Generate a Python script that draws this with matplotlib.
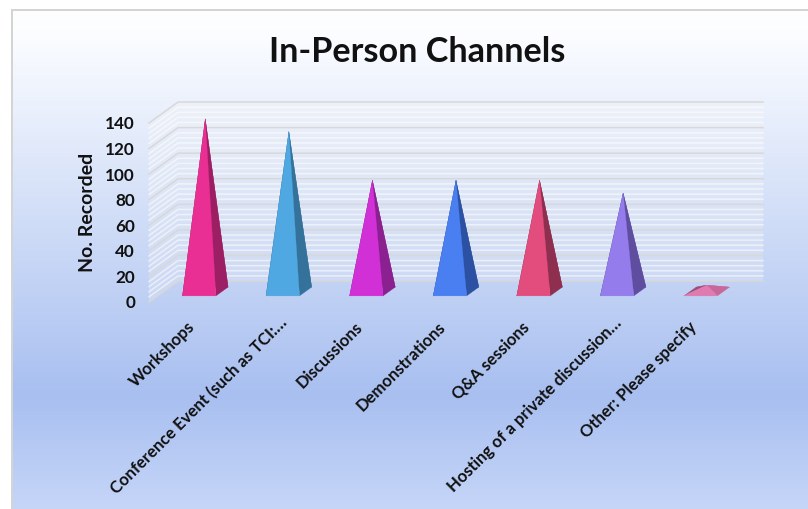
import numpy as np
import matplotlib
matplotlib.use("Agg")
import matplotlib.pyplot as plt
from matplotlib.patches import Polygon, Rectangle
from matplotlib.transforms import ScaledTranslation

categories = ["Workshops", "Conference Event (such as TCI:\u2026", "Discussions", "Demonstrations",
              "Q&A sessions", "Hosting of a private discussion\u2026", "Other: Please specify"]
values = [135, 125, 87, 87, 87, 77, 5]
front_colors = ["#ea2f94", "#4fa8e2", "#d130d6", "#4a7ff2", "#e24d7d", "#957cec", "#e07ab0"]
side_colors = ["#9c1f64", "#34729b", "#8b2090", "#2c51a2", "#8f2f50", "#5f4e9f", "#c8689a"]
back_colors = ["#7a184e", "#285a7a", "#6d1871", "#223f80", "#70253f", "#4a3d7d", "#9a4f78"]
y_ticks = [0, 20, 40, 60, 80, 100, 120, 140]
minor_ticks = [v for v in range(0, 141, 4) if v % 20 != 0]

plt.rcParams['font.family'] = ['Lato', 'DejaVu Sans']
W, H = 808, 509
fig = plt.figure(figsize=(W / 100, H / 100), dpi=100, facecolor='white')

# background gradient inside the grey frame
bg = fig.add_axes([0, 0, 1, 1])
bg.axis('off')
rows = np.arange(10, H)
stops = [10, 40, 395, 509]
r = np.interp(rows, stops, [255, 250, 168, 198])
g = np.interp(rows, stops, [255, 252, 191, 214])
b = np.interp(rows, stops, [255, 255, 240, 248])
grad = np.dstack([r, g, b]).reshape(len(rows), 1, 3) / 255
bg.imshow(grad, extent=(12, W, H, 10), aspect='auto', interpolation='bilinear')
bg.set_xlim(0, W)
bg.set_ylim(H, 0)
bg.add_patch(Rectangle((11, 9), W, 2, color='#d4d4d4', lw=0))
bg.add_patch(Rectangle((11, 9), 2, H, color='#d4d4d4', lw=0))

ax = fig.add_axes([149 / W, 1 - 302 / H, 585 / W, 179 / H])
ax.patch.set_alpha(0)
ax.set_xlim(-0.5, 6.5)
ax.set_ylim(0, 140)
for s in ax.spines.values():
    s.set_visible(False)

# depth of the 3d box, in data units
DX = 0.347
DY = 16.4
HALF = 0.2


def pt(x, v, d):
    return (x + d * DX, v + d * DY)


# walls and gridlines
x0, x1 = -0.5, 6.5
ax.add_patch(Polygon([pt(x0, 0, 1), pt(x1, 0, 1), pt(x1, 140, 1), pt(x0, 140, 1)],
                     fc='#f2f2f2', alpha=0.25, lw=0, clip_on=False, zorder=1))
ax.add_patch(Polygon([pt(x0, 0, 0), pt(x0, 0, 1), pt(x0, 140, 1), pt(x0, 140, 0)],
                     fc='#f2f2f2', alpha=0.25, lw=0, clip_on=False, zorder=1))
for v in minor_ticks:
    line = [pt(x0, v, 0), pt(x0, v, 1), pt(x1, v, 1)]
    ax.plot(*zip(*line), color='white', alpha=0.55, lw=1.1, clip_on=False, zorder=2)
for v in y_ticks:
    line = [pt(x0, v, 0), pt(x0, v, 1), pt(x1, v, 1)]
    ax.plot(*zip(*line), color='#d8d8d8', lw=1.1, clip_on=False, zorder=3)

# pyramids, painted back to front
for i, v in enumerate(values):
    fl = pt(i - HALF, 0, 0.29)
    fr = pt(i + HALF, 0, 0.29)
    br = pt(i + HALF, 0, 0.71)
    bl = pt(i - HALF, 0, 0.71)
    top = pt(i, v, 0.5)
    faces = [([bl, br, top], side_colors[i]), ([fl, bl, top], back_colors[i]),
             ([fr, br, top], side_colors[i]), ([fl, fr, top], front_colors[i])]
    for verts, c in faces:
        ax.add_patch(Polygon(verts, fc=c, ec=c, lw=0.2, clip_on=False, zorder=4))

ax.set_yticks(y_ticks)
ax.set_yticklabels([str(v) for v in y_ticks], fontsize=12.3, fontweight='bold', color='#111111')
ax.set_xticks(range(len(categories)))
ax.set_xticklabels(categories, rotation=45, ha='right', rotation_mode='anchor',
                   fontsize=12, fontweight='bold', color='#111111')
ax.tick_params(axis='both', length=0)
ax.tick_params(axis='y', pad=10)
ax.tick_params(axis='x', pad=4)
# truncated labels end a little further along than the others
for lab, name in zip(ax.get_xticklabels(), categories):
    if name.endswith("\u2026"):
        shift = ScaledTranslation(5 / 100, -7 / 100, fig.dpi_scale_trans)
    else:
        shift = ScaledTranslation(-4 / 100, -11 / 100, fig.dpi_scale_trans)
    lab.set_transform(lab.get_transform() + shift)
ax.set_ylabel("No. Recorded", fontsize=14, fontweight='bold', color='#111111')
ax.yaxis.set_label_coords((96 - 149) / 585, 0.50)

fig.text(417 / W, 1 - 52 / H, "In-Person Channels", fontsize=24.6, fontweight='bold',
         color='#111111', ha='center', va='center')

fig.savefig("out.png", dpi=100)
